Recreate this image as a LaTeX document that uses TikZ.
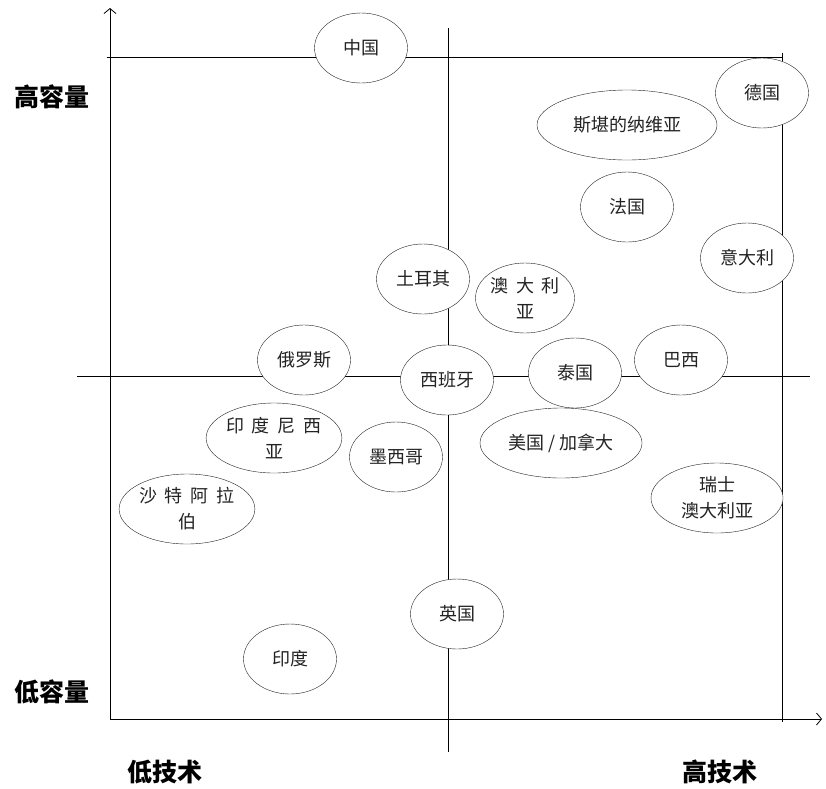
\documentclass[tikz,border=0pt]{standalone}
\usepackage{fontspec}
\usetikzlibrary{arrows.meta,shapes.geometric}
\newfontfamily\cjkfont{Noto Sans CJK SC}
\definecolor{inkColor}{RGB}{35,35,35}
\newcommand{\diagfont}{\cjkfont\fontsize{18}{26}\selectfont}
\newcommand{\diagbigfont}{\cjkfont\bfseries\fontsize{25}{28}\selectfont}
\newcommand{\chargap}{\hspace{8pt}}

\begin{document}
\begin{tikzpicture}[x=1pt, y=-1pt,
        country/.style={draw=inkColor, fill=white, ellipse, inner sep=0pt, minimum width=93pt, minimum height=70pt, align=center, font=\diagfont, text=inkColor},
        midcountry/.style={country, minimum width=132pt},
        widecountry/.style={country, minimum width=162pt},
        axislabel/.style={font=\diagbigfont, inner sep=0pt},
        gridline/.style={line width=0.8pt},
        arr/.style={-{Straight Barb[length=5pt,width=12pt]}, line width=0.8pt}
      ]
      \useasboundingbox (0,0) rectangle (826,788);
      % axes and quadrant lines
      \coordinate (origin) at (110,719);
      \coordinate (ytip) at (110,8);
      \coordinate (xtip) at (822,719);
      \coordinate (topL) at (107,57);
      \coordinate (topR) at (782,57);
      \coordinate (rightT) at (782,53);
      \coordinate (rightB) at (782,722);
      \coordinate (midL) at (77,376);
      \coordinate (midR) at (810,376);
      \coordinate (midT) at (448,28);
      \coordinate (midB) at (448,752);
      \draw[arr] (origin) -- (ytip);
      \draw[arr] (origin) -- (xtip);
      \draw[gridline] (topL) -- (topR);
      \draw[gridline] (rightT) -- (rightB);
      \draw[gridline] (midL) -- (midR);
      \draw[gridline] (midT) -- (midB);

      % countries
      \node[country] (china) at (361,48) {中国};
      \node[country] (germany) at (762,93) {德国};
      \node[country, minimum width=180pt] (scandinavia) at (627,125) {斯堪的纳维亚};
      \node[country] (france) at (627,207) {法国};
      \node[country] (italy) at (747,258) {意大利};
      \node[country] (turkey) at (423,279) {土耳其};
      \node[country] (australia) at (525,298) {澳\chargap 大\chargap 利\\亚};
      \node[country] (russia) at (304,360) {俄罗斯};
      \node[country] (brazil) at (681,360) {巴西};
      \node[country] (thailand) at (575,373) {泰国};
      \node[country] (spain) at (447,380) {西班牙};
      \node[midcountry] (indonesia) at (274,438) {印\chargap 度\chargap 尼\chargap 西\\亚};
      \node[widecountry] (usacanada) at (561,443) {美国 / 加拿大};
      \node[country] (mexico) at (396,457) {墨西哥};
      \node[midcountry] (swiss) at (717,498) {瑞士\\澳大利亚};
      \node[midcountry] (saudi) at (187,509) {沙\chargap 特\chargap 阿\chargap 拉\\伯};
      \node[country] (uk) at (457,614) {英国};
      \node[country] (india) at (290,659) {印度};

      % axis labels
      \node[axislabel] (highcap) at (52,97) {高容量};
      \node[axislabel] (lowcap) at (52,692) {低容量};
      \node[axislabel] (lowtech) at (165,772) {低技术};
      \node[axislabel] (hightech) at (720,772) {高技术};
    \end{tikzpicture}
\end{document}
